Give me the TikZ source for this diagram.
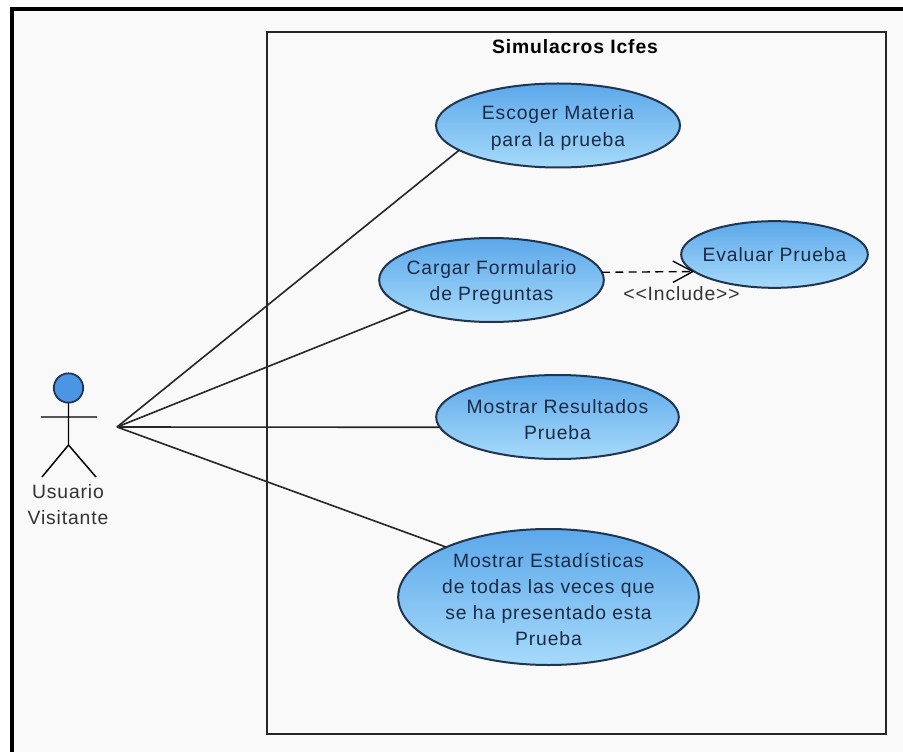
\documentclass[tikz,border=0pt]{standalone}
\usepackage{fontspec}
\usetikzlibrary{arrows.meta,shapes.geometric}
\newfontfamily\umlfont[LetterSpace=4.5]{Liberation Sans}
\definecolor{umlbg}{HTML}{F9F9F9}
\definecolor{umlline}{HTML}{1F3550}
\definecolor{umltop}{HTML}{5CA8EA}
\definecolor{umlbot}{HTML}{A6DAFA}
\definecolor{umlhead}{HTML}{4A96E4}
\definecolor{umltext}{HTML}{1D2A44}
\definecolor{umlgray}{HTML}{333333}
\tikzset{
  usecase/.style={ellipse,draw=umlline,line width=1.5pt,top color=umltop,bottom color=umlbot,
    inner sep=0pt,outer sep=0pt},
  casetext/.style={inner sep=0pt,align=center,text=umltext,yshift=-1.9pt,
    font=\umlfont\fontsize{14.5}{19.6}\selectfont},
  assoc/.style={draw=black!85,line width=1.2pt},
  limb/.style={draw=black,line width=1.1pt},
  plain/.style={text=umlgray,inner sep=0pt,align=center,font=\umlfont\fontsize{14.5}{19.6}\selectfont}
}
\begin{document}
\begin{tikzpicture}[x=0.75pt,y=-0.75pt]
\useasboundingbox (0,0) rectangle (903,752);
\fill[black] (10,7) rectangle (903,752);
\fill[umlbg] (14,11) rectangle (903,752);
\draw[draw=black!85,line width=1.1pt] (267,32) rectangle (886,734);
\node[plain,text=black,font=\umlfont\bfseries\fontsize{14.5}{19.6}\selectfont] (title) at (575,47) {Simulacros Icfes};
\node[usecase,minimum width=183pt,minimum height=63pt] (e1) at (558,125.5) {};
\node[casetext] (t1) at (e1) {Escoger Materia\\para la prueba};
\node[usecase,minimum width=168.5pt,minimum height=63pt] (e2) at (491.5,280) {};
\node[casetext] (t2) at (e2) {Cargar Formulario\\de Preguntas};
\node[usecase,minimum width=140pt,minimum height=50pt] (e4) at (774.5,254.5) {};
\node[casetext,yshift=1.9pt] (t4) at (e4) {Evaluar Prueba};
\node[usecase,minimum width=182pt,minimum height=63pt] (e3) at (557.5,417) {};
\node[casetext] (t3) at (e3) {Mostrar Resultados\\Prueba};
\node[usecase,minimum width=225.5pt,minimum height=102pt] (e5) at (548.5,597) {};
\node[casetext] (t5) at (e5) {Mostrar Estadísticas\\de todas las veces que\\se ha presentado esta\\Prueba};
% actor
\node[circle,draw=umlline,line width=1.3pt,fill=umlhead,minimum size=22pt,inner sep=0pt,outer sep=0pt] (head) at (68.5,388) {};
\coordinate (hip) at (68.5,445);
\coordinate (armL) at (41,417);
\coordinate (armR) at (97,417);
\coordinate (footL) at (42,477);
\coordinate (footR) at (96,477);
\coordinate (hub) at (117,427);
\draw[limb] (head) -- (hip) (armL) -- (armR) (hip) -- (footL) (hip) -- (footR);
\node[plain] (actor) at (68,505) {Usuario\\Visitante};
% associations
\draw[assoc] (hub) -- (e1.194.5);
\draw[assoc] (hub) -- (e2.200.5);
\draw[assoc] (hub) -- (e3.185.9);
\draw[assoc] (hub) -- (e5.154.2);
% include
\draw[black,line width=1pt,dash pattern=on 6pt off 4pt,-{Straight Barb[length=15pt,width=16pt,line width=1pt]}] (e2.4) -- (e4.192.6);
\node[plain] (inc) at (681.5,294) {<<Include>>};
\end{tikzpicture}
\end{document}
